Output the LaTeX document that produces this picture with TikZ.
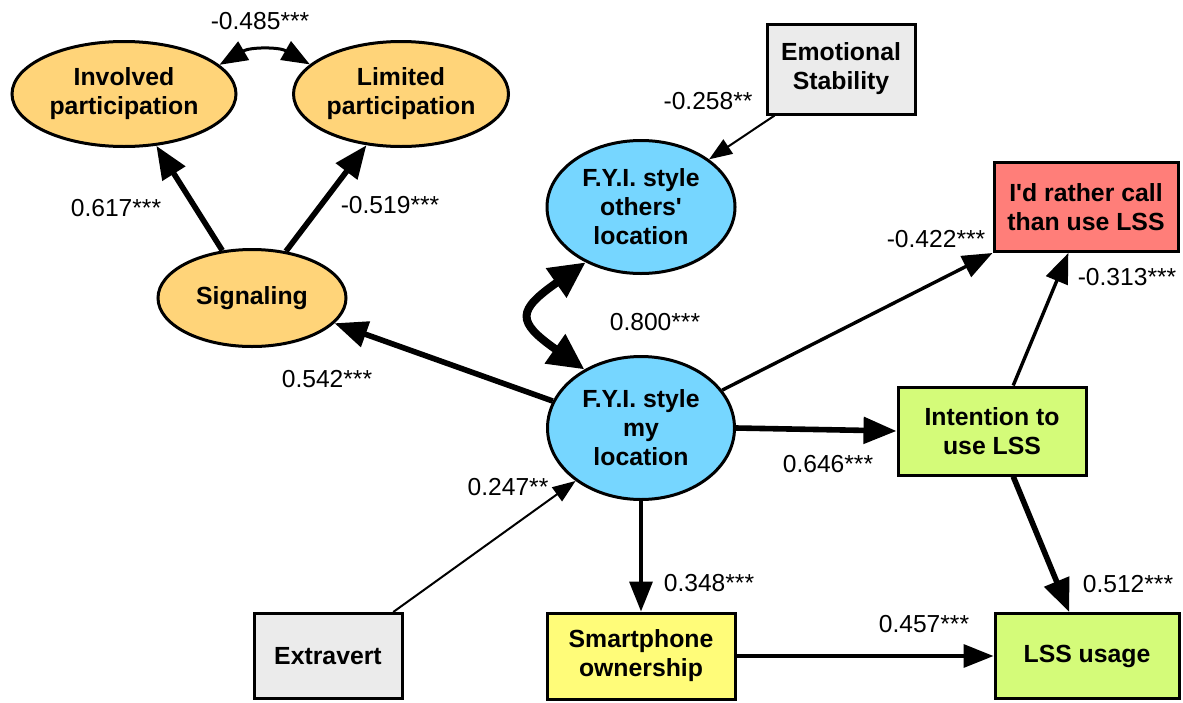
\documentclass[tikz,border=0pt]{standalone}
\usepackage{fontspec}
\setmainfont{Liberation Sans}
\usetikzlibrary{shapes.geometric,arrows.meta}

\definecolor{cantaloupe}{HTML}{FFD479}
\definecolor{sky}{HTML}{76D6FF}
\definecolor{salmon}{HTML}{FF7E79}
\definecolor{honeydew}{HTML}{D4FB79}
\definecolor{banana}{HTML}{FFFC79}
\definecolor{mercury}{HTML}{EBEBEB}

\tikzset{
  latent/.style={ellipse, draw, line width=1.5pt, inner sep=0pt, align=center,
    font=\fontsize{12.4}{14.5}\selectfont\bfseries},
  observed/.style={rectangle, draw, line width=1.5pt, inner sep=0pt, align=center,
    font=\fontsize{12.4}{14.5}\selectfont\bfseries},
  coef/.style={inner sep=0pt, font=\fontsize{12.3}{14}\selectfont},
  thinarr/.style={line width=1pt, -{Triangle[length=11.5pt,width=8.5pt]}},
  midarr/.style={line width=1.7pt, -{Triangle[length=15pt,width=11.5pt]}},
  widearr/.style={line width=2.8pt, -{Triangle[length=16.5pt,width=13pt]}},
  corr/.style={line width=1.5pt, {Triangle[length=14pt,width=10.5pt]}-{Triangle[length=14pt,width=10.5pt]}},
  heavycorr/.style={line width=4pt, {Triangle[length=18pt,width=17pt]}-{Triangle[length=18pt,width=17pt]}}
}

\begin{document}
\begin{tikzpicture}[x=0.5pt, y=-0.5pt]
\useasboundingbox (0,0) rectangle (1183,702);

\node (inv) at (124,94) [latent, fill=cantaloupe, minimum width=112pt, minimum height=52.5pt]{Involved\\participation};
\node (lim) at (401,94) [latent, fill=cantaloupe, inner xsep=-8pt, minimum width=107.5pt, minimum height=52.5pt]{Limited\\participation};
\node (sig) at (252,298) [latent, fill=cantaloupe, minimum width=94pt, minimum height=48.5pt]{Signaling};
\node (others) at (641,207) [latent, fill=sky, minimum width=94pt, minimum height=66.5pt]{F.Y.I. style\\others\textquotesingle\\location};
\node (my) at (641,428) [latent, fill=sky, minimum width=93.5pt, minimum height=71.5pt]{F.Y.I. style\\my\\location};
\node (emo) at (841,69) [observed, fill=mercury, minimum width=74pt, minimum height=45pt]{Emotional\\Stability};
\node (rather) at (1086,207) [observed, fill=salmon, minimum width=92pt, minimum height=44.5pt]{I\textquotesingle d rather call\\than use LSS};
\node (int) at (992,431) [observed, fill=honeydew, minimum width=94pt, minimum height=44pt]{Intention to\\use LSS};
\node (usage) at (1087,656) [observed, fill=honeydew, minimum width=92pt, minimum height=42.5pt]{LSS usage};
\node (smart) at (641,656) [observed, fill=banana, minimum width=94pt, minimum height=43pt]{Smartphone\\ownership};
\node (extr) at (328,656) [observed, fill=mercury, minimum width=74pt, minimum height=42.5pt]{Extravert};

\draw[corr] (inv.17) to[bend left=30] (lim.162);
\draw[widearr] (sig.122) -- (inv.-58);
\draw[widearr] (sig.54) -- (lim.-124);
\draw[widearr] (my.163) -- (sig.-17);
\draw[heavycorr] (others.-135) to[out=215, in=145, looseness=2] (my.134);
\draw[thinarr] (emo.215) -- (others.35);
\draw[midarr] (my.25) -- (rather.south west);
\draw[widearr] (my.east) -- (int.west);
\draw[midarr] (my.south) -- (smart.north);
\draw[thinarr] (extr.34) -- (my.219);
\draw[midarr] (int.65) -- (rather.249);
\draw[widearr] (int.-65) -- (usage.112);
\draw[midarr] (smart.east) -- (usage.west);

\node (c1) at (260,21) [coef]{-0.485***};
\node (c2) at (116,208) [coef]{0.617***};
\node (c3) at (390,205) [coef]{-0.519***};
\node (c4) at (327,379) [coef]{0.542***};
\node (c5) at (708,101) [coef]{-0.258**};
\node (c6) at (655,322) [coef]{0.800***};
\node (c7) at (936,239) [coef]{-0.422***};
\node (c8) at (1127,277) [coef]{-0.313***};
\node (c9) at (828,464) [coef]{0.646***};
\node (c10) at (508,487) [coef]{0.247**};
\node (c11) at (709,583) [coef]{0.348***};
\node (c12) at (1128,584) [coef]{0.512***};
\node (c13) at (924,624) [coef]{0.457***};
\end{tikzpicture}
\end{document}
